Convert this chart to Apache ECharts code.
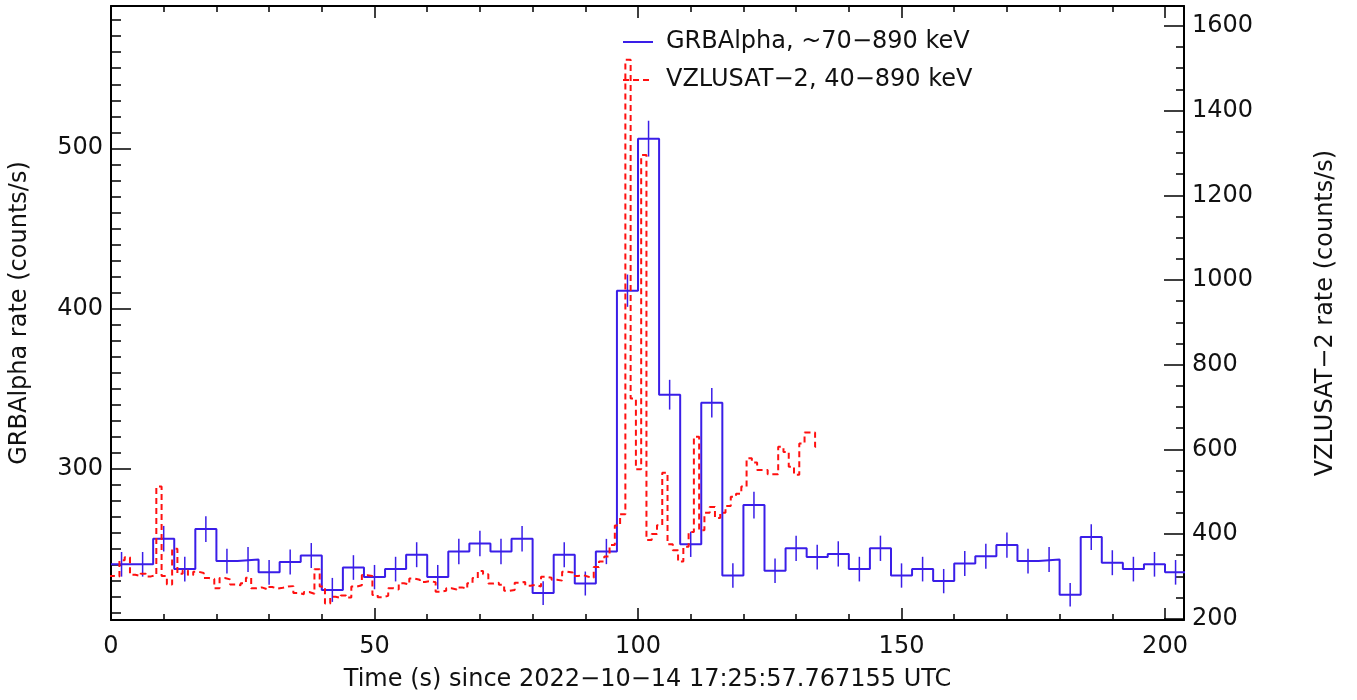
<!DOCTYPE html>
<html><head><meta charset="utf-8">
<script src="https://cdn.jsdelivr.net/npm/echarts@6/dist/echarts.min.js"></script>
<style>html,body{margin:0;padding:0;background:#fff}#c{width:1357px;height:700px}</style>
</head><body><div id="c"></div>
<script>
// ---------- data ----------
const grbBinWidth = 4;          // s
const grbStart0 = 0;            // first bin start (s)
const grbRate = [240,240,256,237,262,242,243,235,241.5,245.5,224,238,232,237,246,232,248,253,
  248,256,222,246,228,248,411,506,346,252.5,341,233,277,236,250,244.5,246.5,237,250,233,237,
  229.5,240.5,245,252,242,243,221,257,241,237,240,235];
const grbErr = [7.7,7.7,8.0,7.7,8.1,7.8,7.8,7.7,7.8,7.8,7.5,7.7,7.6,7.7,7.8,7.6,7.9,8.0,
  7.9,8.0,7.4,7.8,7.5,7.9,10.1,11.2,9.3,7.9,9.2,7.6,8.3,7.7,7.9,7.8,7.9,7.7,7.9,7.6,7.7,
  7.6,7.8,7.8,7.9,7.8,7.8,7.4,8.0,7.8,7.7,7.7,7.7];

const vzBinWidth = 1;           // s
const vzStart0 = -0.4;          // first bin start (s)
const vzEnd = 134.1;            // end of last bin (s)
const vzRate = [301,300,338,345,304,301,306,300,303,512,301,281,365,306,314,303,311,308,296,294,
  272,296,293,281,279,284,297,272,274,270,275,271,273,276,277,261,258,263,259,317,
  276,236,252,249,255,250,276,279,303,301,256,251,254,272,269,284,281,295,292,287,
  289,286,264,266,272,269,274,271,284,296,313,305,283,285,280,266,268,285,287,278,
  280,276,299,297,292,290,311,309,301,303,299,297,322,335,347,374,420,447,1520,720,
  553,1295,386,400,421,545,376,362,335,370,405,630,409,450,464,438,450,466,488,495,
  512,579,569,551,551,541,541,606,594,559,540,614,640,640,606];

const xMajorTicks = [0,50,100,150,200];
const xMinorTicks = [10,20,30,40,60,70,80,90,110,120,130,140,160,170,180,190];
const leftMajorTicks = [300,400,500];
const rightMajorTicks = [200,400,600,800,1000,1200,1400,1600];

const grbName = 'GRBAlpha, ~70\u2212890 keV';
const vzName = 'VZLUSAT\u22122, 40\u2212890 keV';
const xTitle = 'Time (s) since 2022\u221210\u221214 17:25:57.767155 UTC';
const yLeftTitle = 'GRBAlpha rate (counts/s)';
const yRightTitle = 'VZLUSAT\u22122 rate (counts/s)';

// ---------- build ----------
const leftMinorTicks = [];
for (let v = 210; v <= 580; v += 10) if (leftMajorTicks.indexOf(v) < 0) leftMinorTicks.push(v);
const rightMinorTicks = [];
for (let v = 250; v <= 1640; v += 50) if (rightMajorTicks.indexOf(v) < 0) rightMinorTicks.push(v);

const grbData = grbRate.map((v, i) => [grbStart0 + i * grbBinWidth, v]);
grbData.push([grbStart0 + grbRate.length * grbBinWidth, grbRate[grbRate.length - 1]]);
const grbErrData = grbRate.map((v, i) => [grbStart0 + (i + 0.5) * grbBinWidth, v, grbErr[i]]);
const vzData = vzRate.map((v, i) => [vzStart0 + i * vzBinWidth, v]);
vzData.push([vzEnd, vzRate[vzRate.length - 1]]);

const FONT = 'DejaVu Sans';
const FS = 24;
const BLUE = '#3a1ee8';
const RED = '#ff1010';
const INK = '#111';

const X_MIN = 0, X_MAX = 203.6;
const YL_MIN = 205.2, YL_MAX = 588.9;
const YR_MIN = 197, YR_MAX = 1647;

function plain(v) { return String(v); }

function xAx(pos, ticks, len, labels, line) {
  return {
    type: 'value', position: pos, min: X_MIN, max: X_MAX,
    axisLine: {show: line, onZero: false, lineStyle: {color: '#000', width: 2}},
    axisTick: {show: true, inside: true, length: len, customValues: ticks, lineStyle: {color: '#000', width: 1.5}},
    axisLabel: labels ? {show: true, customValues: ticks, formatter: plain, fontSize: FS, color: INK, fontFamily: FONT, margin: 15} : {show: false},
    splitLine: {show: false}
  };
}
function yAx(pos, min, max, ticks, len, labels, line) {
  return {
    type: 'value', position: pos, min: min, max: max,
    axisLine: {show: line, onZero: false, lineStyle: {color: '#000', width: 2}},
    axisTick: {show: true, inside: true, length: len, customValues: ticks, lineStyle: {color: '#000', width: 1.5}},
    axisLabel: labels ? {show: true, customValues: ticks, formatter: plain, fontSize: FS, color: INK, fontFamily: FONT, margin: 8} : {show: false},
    splitLine: {show: false}
  };
}

const xAxes = [
  xAx('bottom', xMajorTicks, 12, true, true),
  xAx('bottom', xMinorTicks, 6, false, false),
  xAx('top', xMajorTicks, 12, false, true),
  xAx('top', xMinorTicks, 6, false, false)
];
Object.assign(xAxes[0], {name: xTitle, nameLocation: 'middle', nameGap: 48,
  nameTextStyle: {fontSize: FS, color: INK, fontFamily: FONT}});

const yAxes = [
  yAx('left', YL_MIN, YL_MAX, leftMajorTicks, 20, true, true),
  yAx('left', YL_MIN, YL_MAX, leftMinorTicks, 10, false, false),
  yAx('right', YR_MIN, YR_MAX, rightMajorTicks, 20, true, true),
  yAx('right', YR_MIN, YR_MAX, rightMinorTicks, 8, false, false)
];
Object.assign(yAxes[0], {name: yLeftTitle, nameLocation: 'middle', nameGap: 79, nameRotate: 90,
  nameTextStyle: {fontSize: FS, color: INK, fontFamily: FONT}});
Object.assign(yAxes[2], {name: yRightTitle, nameLocation: 'middle', nameGap: 130, nameRotate: 90,
  nameTextStyle: {fontSize: FS, color: INK, fontFamily: FONT}});

const chart = echarts.init(document.getElementById('c'), null, {renderer: 'canvas'});
chart.setOption({
  animation: false,
  backgroundColor: '#fff',
  grid: {left: 109, right: 173, top: 6, bottom: 80, containLabel: false},
  legend: {
    orient: 'vertical', left: 617, top: 25, itemWidth: 30, itemHeight: 16, itemGap: 14,
    itemStyle: {opacity: 0},
    textStyle: {fontSize: FS, color: INK, fontFamily: FONT, padding: [0, 0, 0, 8]},
    data: [grbName, vzName]
  },
  xAxis: xAxes,
  yAxis: yAxes,
  series: [
    {
      name: grbName, type: 'line', xAxisIndex: 0, yAxisIndex: 0, step: 'end',
      data: grbData, symbol: 'none', z: 3,
      lineStyle: {color: BLUE, width: 2}, itemStyle: {color: BLUE}
    },
    {
      type: 'custom', xAxisIndex: 0, yAxisIndex: 0, data: grbErrData, z: 3, clip: true,
      renderItem: function (params, api) {
        const x = api.value(0), y = api.value(1), e = api.value(2);
        const p1 = api.coord([x, y - e]), p2 = api.coord([x, y + e]);
        return {type: 'line', shape: {x1: p1[0], y1: p1[1], x2: p2[0], y2: p2[1]},
          style: {stroke: BLUE, lineWidth: 1.5}};
      }
    },
    {
      name: vzName, type: 'line', xAxisIndex: 0, yAxisIndex: 2, step: 'end',
      data: vzData, symbol: 'none', z: 4,
      lineStyle: {color: RED, width: 2, type: [6, 4]}, itemStyle: {color: RED}
    }
  ]
});
</script>
</body></html>
